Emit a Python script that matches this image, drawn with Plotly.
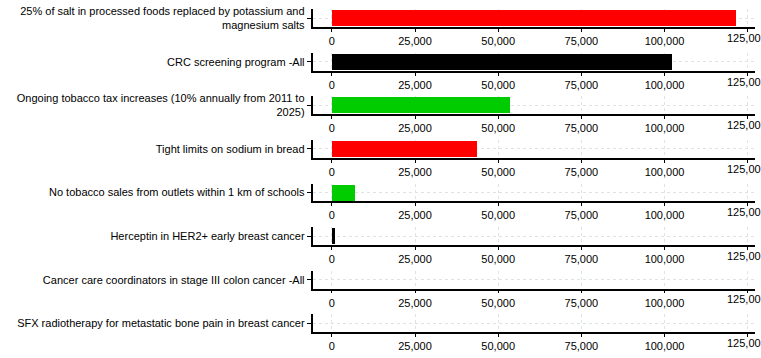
import plotly.graph_objects as go

labels = [
    "25% of salt in processed foods replaced by potassium and<br>magnesium salts",
    "CRC screening program -All",
    "Ongoing tobacco tax increases (10% annually from 2011 to<br>2025)",
    "Tight limits on sodium in bread",
    "No tobacco sales from outlets within 1 km of schools",
    "Herceptin in HER2+ early breast cancer",
    "Cancer care coordinators in stage III colon cancer -All",
    "SFX radiotherapy for metastatic bone pain in breast cancer",
]
values = [121300, 102000, 53300, 43600, 6700, 900, 0, 0]
colors = ["#ff0000", "#000000", "#00cc00", "#ff0000", "#00cc00", "#000000", "#000000", "#000000"]
tick_vals = [0, 25000, 50000, 75000, 100000, 125000]
tick_text = ["0", "25,000", "50,000", "75,000", "100,000", "125,000"]
# last tick label, cut by the right edge of the chart in the reference
edge_tick_text = "125,00"

W, H = 761, 358
FONT = "Liberation Sans, Arial, sans-serif"

fig = go.Figure()
layout = {}
annotations = []
for i, (lab, val, col) in enumerate(zip(labels, values, colors)):
    xn = "x" if i == 0 else f"x{i+1}"
    yn = "y" if i == 0 else f"y{i+1}"
    xl = "xaxis" if i == 0 else f"xaxis{i+1}"
    yl = "yaxis" if i == 0 else f"yaxis{i+1}"
    bottom = 23.8 + 44.55 * i
    top = bottom - 18.3
    fig.add_trace(go.Bar(x=[val], y=[lab], orientation="h", marker=dict(color=col, line=dict(width=0)),
                         width=0.9, xaxis=xn, yaxis=yn, showlegend=False, hoverinfo="skip"))
    layout[xl] = dict(domain=[312.5 / W, 754.5 / W], range=[-5830, 127060], anchor=yn,
                      tickvals=tick_vals, ticktext=tick_text, showline=True, linecolor="#000000",
                      linewidth=1.5, ticks="outside", ticklen=3, tickcolor="#000000", showgrid=True,
                      gridcolor="#dde3e6", griddash="dot", gridwidth=1, zeroline=False,
                      tickfont=dict(family=FONT, size=11, color="#000000"))
    layout[yl] = dict(domain=[1 - bottom / H, 1 - top / H], anchor=xn, type="category",
                      range=[-0.5, 0.5], showline=True, linecolor="#000000", linewidth=1.5,
                      ticks="outside", ticklen=4, tickcolor="#000000", showgrid=True,
                      gridcolor="#dde3e6", griddash="dot", gridwidth=1, zeroline=False,
                      tickfont=dict(family=FONT, size=11, color="#000000"))
    annotations.append(dict(text=edge_tick_text, xref="paper", yref="paper", x=1, xanchor="right",
                            y=1 - (bottom + 11) / H, yanchor="middle", showarrow=False,
                            borderpad=0, borderwidth=0,
                            font=dict(family=FONT, size=11, color="#000000")))

fig.update_layout(width=W, height=H, autosize=False, margin=dict(l=0, r=0, t=0, b=0),
                  paper_bgcolor="white", plot_bgcolor="white", bargap=0,
                  font=dict(family=FONT, size=11, color="#000000"),
                  annotations=annotations, **layout)
post = (
    "document.documentElement.style.margin='0';document.documentElement.style.overflow='hidden';"
    "document.body.style.margin='0';document.body.style.overflow='hidden';"
)
fig.write_html("out.html", config={"displayModeBar": False, "responsive": False}, post_script=post)
